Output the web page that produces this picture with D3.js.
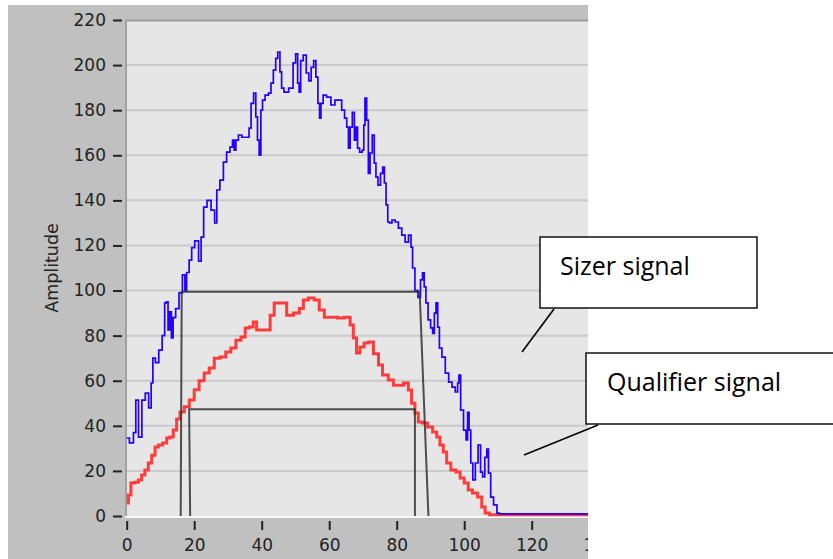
<!DOCTYPE html>
<html lang="en">
<head>
<meta charset="UTF-8">
<title>Sizer and Qualifier signal</title>
<script src="https://d3js.org/d3.v7.min.js"></script>
<style>
    body{ margin:0; background:#fff; }
    .tick text{ font-family:"DejaVu Sans",sans-serif; font-size:17px; fill:#222; }
    .tick line{ stroke:#222; stroke-width:2px; }
    .axisTitle{ font-family:"DejaVu Sans",sans-serif; font-size:17.5px; fill:#222; }
    .callout text{ font-family:"Open Sans",sans-serif; font-size:25px; fill:#000; }
    path.sizer{ stroke:#2400ff; stroke-width:1.7px; fill:none; }
    path.qualifier{ stroke:#ff3c3c; stroke-width:3px; fill:none; }
    path.gate{ stroke:#333; stroke-width:2px; fill:none; opacity:0.85; }
</style>
</head>
<body>
<svg width="833" height="559"></svg>
<script>
// tick labels
let xTicks = [0, 20, 40, 60, 80, 100, 120, 140];
let yTicks = [0, 20, 40, 60, 80, 100, 120, 140, 160, 180, 200, 220];

// sizer signal (blue), [sample, amplitude]
let sizerSignal = [
    [0,34.6],[1.6,32.4],[2.4,37],[3.0,51.4],[4.0,35],[5.0,51.4],[6.0,54.5],[7.0,48],[7.5,59],
    [8.0,70],[9.0,68],[10.0,73.6],[11.0,80],[11.5,94.5],[12.0,95],[12.5,82.5],[13.0,90.5],
    [13.5,79],[14.0,88],[15.0,92],[16.0,99],[17.0,107],[17.5,100],[18.0,108],[19.0,113.5],
    [19.5,119],[20.8,122],[21.8,113],[22.3,123.7],[23.3,137],[24.3,140],[25.7,135.7],[26.4,130],
    [27.0,144.6],[28.2,149],[29.1,157],[30.1,161.4],[31.1,163.6],[31.6,166.7],[32.1,162.3],
    [32.6,166.7],[33.6,169],[34.6,168],[36.0,168],[36.5,172],[37.2,183],[38.0,187.6],[38.5,177],
    [39.0,166.7],[39.5,160],[40.0,180],[40.5,184.5],[41.5,186.7],[42.5,187.6],[43.0,192],
    [43.9,197.8],[44.4,203],[45.1,205.8],[45.7,197],[46.1,189.8],[47.1,188],[48.9,189.8],
    [49.7,201],[50.4,205],[50.9,192],[51.3,188],[51.8,202],[52.8,204.4],[53.6,196.5],[54.3,193],
    [55.0,199],[55.8,202],[56.3,194.7],[57.0,183],[57.3,176.5],[57.8,183],[58.6,186.7],
    [59.8,185.8],[61.2,182.3],[62.2,184.5],[63.2,184.5],[64.2,180],[64.9,176.5],[65.5,172.5],
    [65.9,163.2],[66.5,172.5],[67.2,179],[67.7,166.7],[68.2,172.5],[68.6,163.2],[69.4,161.4],
    [70.1,162.3],[70.4,173.4],[70.8,185.4],[71.4,175.6],[71.8,152],[72.4,161],[73.1,169],
    [73.6,156.5],[74.1,150.3],[74.8,146.8],[75.6,152],[76.1,154.8],[76.6,147.7],[77.1,138],
    [77.6,130.4],[78.1,130],[79.1,131.3],[80.0,130.4],[81.0,127.7],[82.0,124.6],[83.0,121.5],
    [84.0,124.6],[84.5,119.3],[84.9,110],[85.9,100],[86.7,97],[87.4,104.7],[87.9,107.8],
    [88.4,101.6],[88.9,94.5],[89.7,87],[90.4,83.4],[90.9,81],[91.4,90],[91.9,94.5],[92.4,83.8],
    [92.9,74.5],[93.9,70.5],[94.9,63.4],[95.9,59.4],[96.9,57.2],[97.8,55],[98.3,59],[98.6,62.5],
    [99.3,47],[100.3,38.1],[100.8,33.7],[101.2,46],[101.7,38.1],[102.2,23.5],[102.9,16],
    [103.7,23.5],[104.5,31.5],[105.2,19.5],[105.7,17.3],[106.5,26],[106.9,29.7],[107.5,19],
    [108.2,8.4],[109.2,4.9],[110.2,1.3],[110.7,0.9],[140,0.9]
];

// qualifier signal (red), [sample, amplitude]
let qualifierSignal = [
    [0,5.8],[1.0,9.3],[1.5,14.6],[3.0,15],[3.9,16],[4.9,18.2],[5.9,20.4],[6.9,23.5],[7.9,27],
    [8.9,30.6],[9.9,31.5],[11.4,32.4],[12.3,34.6],[13.3,35],[14.3,38.1],[15.3,43],[16.3,46.1],
    [17.8,48.5],[19.3,51.5],[20.7,56],[22.2,60],[23.7,63.4],[25.2,65.6],[26.7,70],[28.6,70.5],
    [30.1,72.7],[31.6,74.5],[33.1,78],[34.6,79.4],[35.6,83.4],[37.0,83.8],[38.0,86],[39.0,82.5],
    [42.0,82.5],[43.0,89],[44.4,94.5],[46.4,94.5],[48.4,89],[50.4,90],[51.9,92],[52.8,95.8],
    [54.8,96.7],[56.3,95.8],[57.8,91.4],[59.3,88.2],[61.7,88.2],[63.2,87.8],[65.7,88.2],
    [66.7,84.7],[67.6,79],[68.6,72.3],[69.6,75],[71.1,76.7],[72.1,77.2],[74.1,72],[75.1,67],
    [76.5,62.5],[78.5,60.3],[79.5,58],[81.0,58],[83.0,59],[83.9,55.9],[84.9,50],[85.9,45.7],
    [86.9,41.7],[88.4,41.2],[89.9,39.5],[91.4,37.3],[92.3,35],[93.3,31.5],[94.3,28.4],
    [95.3,23.5],[96.8,20.4],[98.3,19.5],[99.3,16.9],[100.7,14.6],[101.7,11.5],[103.2,10.2],
    [104.7,8.4],[105.7,4],[106.7,1.3],[108.2,0.5],[140,0.5]
];

// threshold windows
let sizerGate = [[16.0,0],[16.3,99.5],[86.8,99.5],[89.4,0]];
let qualifierGate = [[18.8,0],[18.5,47.3],[85.4,47.3],[85.4,0]];

// callouts
let callouts = [
    {label:"Sizer signal", box:[540,237,217,71], text:[560,275], lead:[[554,309],[522,352]]},
    {label:"Qualifier signal", box:[586,353,260,71], text:[607,391], lead:[[598,425],[524,455]]}
];

let svg = d3.select('svg');
let plot = {left:125, top:20, right:600, bottom:517};

let xScale = d3.scaleLinear().domain([0, 140]).range([126.7, 599.2]);
let yScale = d3.scaleLinear().domain([0, 220]).range([516, 20]);

// everything in the graph panel is cut at x = 588
svg.append('clipPath').attr('id', 'panelClip')
    .append('rect').attr('x', 0).attr('y', 0).attr('width', 588).attr('height', 559);
svg.append('clipPath').attr('id', 'plotClip')
    .append('rect').attr('x', plot.left).attr('y', plot.top)
    .attr('width', 588 - plot.left).attr('height', plot.bottom - plot.top);

let panel = svg.append('g').attr('clip-path', 'url(#panelClip)');
panel.append('rect').attr('x', 8).attr('y', 5).attr('width', 600).attr('height', 560)
    .attr('fill', '#c0c0c0');
panel.append('rect').attr('x', plot.left).attr('y', plot.top)
    .attr('width', plot.right - plot.left).attr('height', plot.bottom - plot.top)
    .attr('fill', '#e6e6e6');

// grid
panel.append('g').selectAll('line').data(yTicks.filter(d => d > 0 && d < 220)).join('line')
    .attr('x1', plot.left).attr('x2', plot.right)
    .attr('y1', d => yScale(d)).attr('y2', d => yScale(d))
    .attr('stroke', '#cacaca').attr('stroke-width', 2);

// frame
panel.append('line').attr('x1', plot.left).attr('x2', plot.right)
    .attr('y1', plot.top + 0.5).attr('y2', plot.top + 0.5)
    .attr('stroke', '#9c9c9c').attr('stroke-width', 2);
panel.append('line').attr('x1', plot.left + 1).attr('x2', plot.left + 1)
    .attr('y1', plot.top).attr('y2', plot.bottom)
    .attr('stroke', '#a0a0a0').attr('stroke-width', 2);
panel.append('line').attr('x1', plot.left).attr('x2', plot.right)
    .attr('y1', plot.bottom).attr('y2', plot.bottom)
    .attr('stroke', '#fafafa').attr('stroke-width', 2);

// signals, drawn as sampled steps
let stepLine = d3.line().x(d => xScale(d[0])).y(d => yScale(d[1])).curve(d3.curveStep);
let line = d3.line().x(d => xScale(d[0])).y(d => yScale(d[1]));
let fig = panel.append('g').attr('clip-path', 'url(#plotClip)');
fig.append('path').datum(qualifierSignal).attr('class', 'qualifier').attr('d', stepLine);
fig.append('path').datum(sizerSignal).attr('class', 'sizer').attr('d', stepLine);
fig.append('path').datum(sizerGate).attr('class', 'gate').attr('d', line);
fig.append('path').datum(qualifierGate).attr('class', 'gate').attr('d', line);

// axes
let yAxis = panel.append('g').attr('transform', 'translate(122,0)')
    .call(d3.axisLeft(yScale).tickValues(yTicks).tickSize(9).tickPadding(7));
yAxis.select('.domain').remove();
let xAxis = panel.append('g').attr('transform', 'translate(0,521)')
    .call(d3.axisBottom(xScale).tickValues(xTicks).tickSize(9).tickPadding(9));
xAxis.select('.domain').remove();

panel.append('text').attr('class', 'axisTitle')
    .attr('transform', 'translate(58,268) rotate(-90)')
    .attr('text-anchor', 'middle').text('Amplitude');

// callout boxes
let co = svg.append('g').attr('class', 'callout');
callouts.forEach(function (c) {
    co.append('line').attr('x1', c.lead[0][0]).attr('y1', c.lead[0][1])
        .attr('x2', c.lead[1][0]).attr('y2', c.lead[1][1])
        .attr('stroke', '#000').attr('stroke-width', 1.6);
    co.append('rect').attr('x', c.box[0]).attr('y', c.box[1])
        .attr('width', c.box[2]).attr('height', c.box[3])
        .attr('fill', '#fff').attr('stroke', '#000').attr('stroke-width', 1.4);
    co.append('text').attr('x', c.text[0]).attr('y', c.text[1]).text(c.label);
});
</script>
</body>
</html>
